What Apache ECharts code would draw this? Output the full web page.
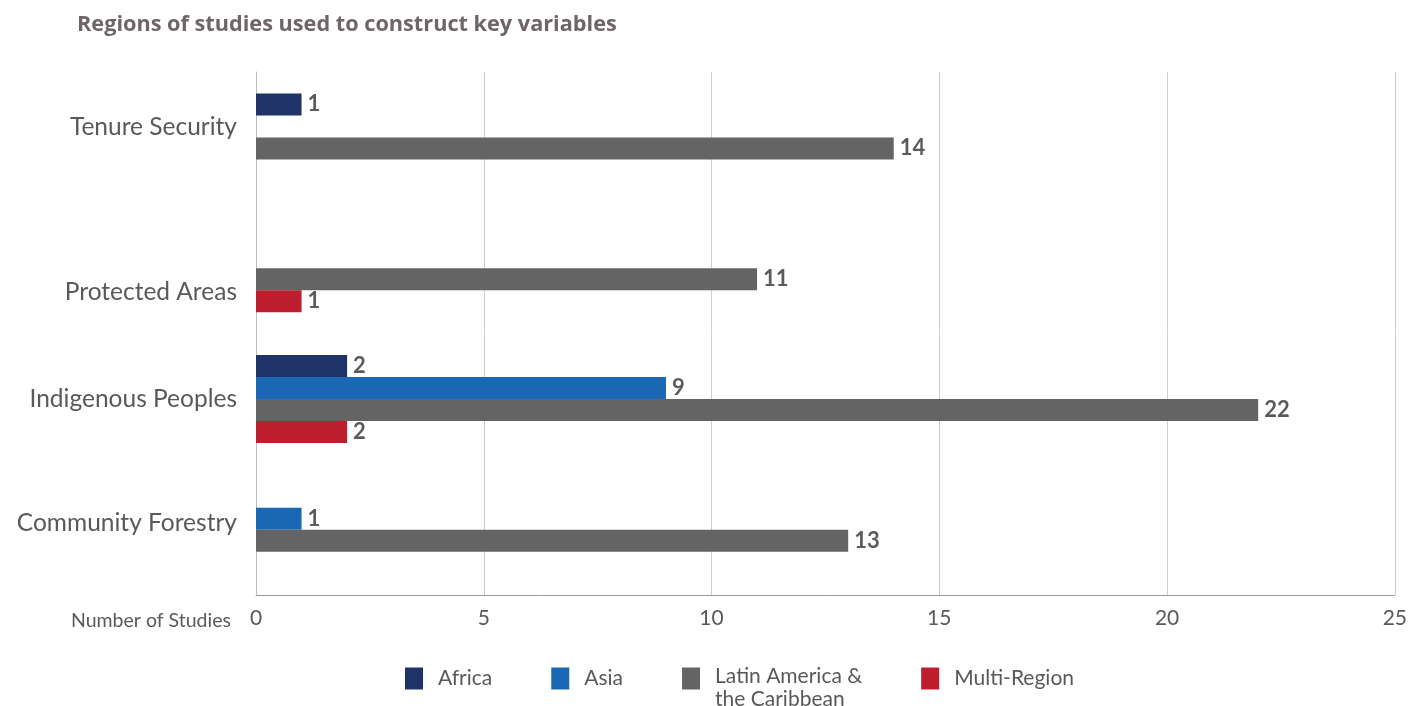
<!DOCTYPE html>
<html>
<head>
<meta charset="utf-8">
<script src="https://cdn.jsdelivr.net/npm/echarts@6/dist/echarts.min.js"></script>
<style>
  html, body { margin: 0; padding: 0; background: #fff; }
  #chart { width: 1410px; height: 706px; }
</style>
</head>
<body>
<div id="chart"></div>
<script>
var categories = ['Tenure Security', 'Protected Areas', 'Indigenous Peoples', 'Community Forestry'];
var africa = [1, 0, 2, 0];
var asia = [0, 0, 9, 1];
var latinAmerica = [14, 11, 22, 13];
var multiRegion = [0, 1, 2, 0];
var xTicks = [0, 5, 10, 15, 20, 25];

// label nudges (the original places category labels by hand)
var labelPad = {
  'Tenure Security': [0, 0, 20, 0],
  'Protected Areas': [48, 0, 0, 0],
  'Indigenous Peoples': [0, 0, 0, 0],
  'Community Forestry': [0, 0, 14, 0]
};

function clean(arr) {
  return arr.map(function (v) { return v === 0 ? '-' : v; });
}

var font = 'Lato, "Open Sans", sans-serif';

function makeSeries(name, data, color) {
  return {
    name: name,
    type: 'bar',
    data: clean(data),
    barWidth: 22,
    barGap: '0%',
    itemStyle: { color: color },
    label: {
      show: true,
      position: 'right',
      distance: 6,
      fontFamily: font,
      fontSize: 22,
      fontWeight: 'bold',
      color: '#5b5b5b'
    }
  };
}

var chart = echarts.init(document.getElementById('chart'));
var rich = {};
categories.forEach(function (c, i) {
  rich['c' + i] = {
    fontFamily: font,
    fontSize: 24.5,
    color: '#595959',
    padding: labelPad[c]
  };
});

chart.setOption({
  animation: false,
  title: [{
    text: 'Regions of studies used to construct key variables',
    left: 72,
    top: 9,
    textStyle: { fontFamily: '"Open Sans", sans-serif', fontSize: 21.7, fontWeight: 'bold', color: '#6d6566' }
  }, {
    text: 'Number of Studies',
    left: 66,
    top: 606,
    textStyle: { fontFamily: font, fontSize: 19.5, fontWeight: 'normal', color: '#595959' }
  }],
  legend: {
    left: 400,
    top: 642,
    itemWidth: 18,
    itemHeight: 22,
    itemGap: 59,
    icon: 'rect',
    data: ['Africa', 'Asia', 'Latin America & the Caribbean', 'Multi-Region'],
    formatter: function (name) {
      if (name === 'Latin America & the Caribbean') {
        return '{two|Latin America &\nthe Caribbean}';
      }
      return '{one|' + name + '}';
    },
    textStyle: {
      fontFamily: font,
      fontSize: 21,
      color: '#595959',
      rich: {
        one: { fontFamily: font, fontSize: 21, color: '#595959', padding: [0, 0, 0, 10] },
        two: { fontFamily: font, fontSize: 21, color: '#595959', lineHeight: 23, padding: [19, 0, 0, 10] }
      }
    }
  },
  grid: { left: 256, right: 7, top: 72, bottom: 111, containLabel: false },
  xAxis: {
    type: 'value',
    min: xTicks[0],
    max: xTicks[xTicks.length - 1],
    interval: 5,
    axisLine: { show: true, lineStyle: { color: '#999' } },
    axisTick: { show: false },
    splitLine: { show: true, lineStyle: { color: '#cfcfcf' } },
    axisLabel: { fontFamily: font, fontSize: 21, color: '#595959', margin: 13 }
  },
  yAxis: {
    type: 'category',
    inverse: true,
    data: categories,
    axisLine: { show: true, lineStyle: { color: '#bbb' } },
    axisTick: { show: false },
    axisLabel: {
      margin: 19,
      formatter: function (v) {
        return '{c' + categories.indexOf(v) + '|' + v + '}';
      },
      rich: rich
    }
  },
  series: [
    makeSeries('Africa', africa, '#1f3368'),
    makeSeries('Asia', asia, '#1a67b3'),
    makeSeries('Latin America & the Caribbean', latinAmerica, '#636463'),
    makeSeries('Multi-Region', multiRegion, '#be1e2d')
  ]
});
</script>
</body>
</html>
